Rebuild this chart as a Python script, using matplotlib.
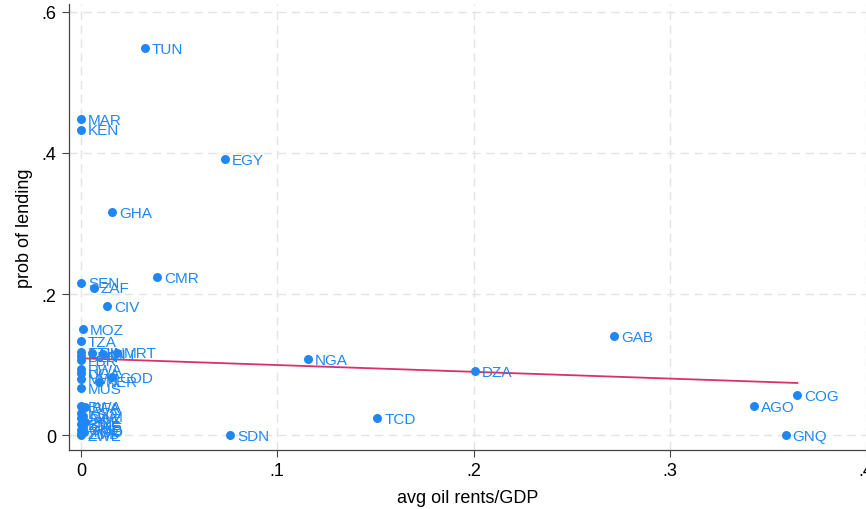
import numpy as np
import matplotlib
matplotlib.use("Agg")
import matplotlib.pyplot as plt

plt.rcParams['font.family'] = ['Liberation Sans', 'DejaVu Sans']

# country codes, avg oil rents/GDP, prob of lending
codes = ["TUN", "MAR", "KEN", "EGY", "GHA", "SEN", "ZAF", "CMR", "CIV", "MOZ",
         "TZA", "ETH", "GIN", "MLI", "MRT", "BEN", "LBR",
         "RWA", "UGA", "MWI", "COD", "NER", "MUS",
         "BWA", "BFA", "LSO", "NAM", "SWZ", "SLE", "BDI", "CAF", "GMB", "TGO",
         "ZMB", "ZWE",
         "NGA", "DZA", "GAB", "TCD", "SDN", "GNQ", "AGO", "COG"]
oil = [0.0326, 0.0, 0.0, 0.0734, 0.0158, 0.0, 0.0066, 0.0387, 0.0132, 0.0010,
       0.0, 0.0, 0.0055, 0.0110, 0.0185, 0.0, 0.0,
       0.0, 0.0, 0.0, 0.0160, 0.0090, 0.0,
       0.0, 0.0020, 0.0, 0.0010, 0.0, 0.0020, 0.0, 0.0010, 0.0, 0.0015,
       0.0, 0.0,
       0.1156, 0.2007, 0.2715, 0.1510, 0.0760, 0.3590, 0.3430, 0.3650]
prob = [0.549, 0.448, 0.433, 0.391, 0.316, 0.216, 0.209, 0.224, 0.183, 0.150,
        0.133, 0.118, 0.117, 0.115, 0.117, 0.112, 0.106,
        0.094, 0.088, 0.080, 0.082, 0.076, 0.067,
        0.041, 0.040, 0.031, 0.027, 0.024, 0.019, 0.016, 0.012, 0.008, 0.005,
        0.002, 0.0,
        0.108, 0.091, 0.140, 0.024, 0.0, 0.0, 0.041, 0.057]

# fitted line
fit_intercept = 0.109
fit_slope = -0.096

xticks = [0, 0.1, 0.2, 0.3, 0.4]
xtick_labels = ["0", ".1", ".2", ".3", ".4"]
yticks = [0, 0.2, 0.4, 0.6]
ytick_labels = ["0", ".2", ".4", ".6"]

blue = "#1f87f5"
fig = plt.figure(figsize=(8.66, 5.10), dpi=100)
ax = fig.add_axes([0.0797, 0.1157, 0.9215, 0.8743])

ax.scatter(oil, prob, s=42, color=blue, zorder=3, linewidths=0)
for c, x, y in zip(codes, oil, prob):
    ax.annotate(c, (x, y), xytext=(5, -0.5), textcoords="offset points",
                va="center", ha="left", fontsize=11, color=blue, zorder=3)

xs = np.array([0.0, max(oil)])
ax.plot(xs, fit_intercept + fit_slope * xs, color="#d9306b", lw=1.3, zorder=2)

ax.set_xlim(-0.0061, 0.4005)
ax.set_ylim(-0.021, 0.611)
ax.set_xticks(xticks)
ax.set_xticklabels(xtick_labels)
ax.set_yticks(yticks)
ax.set_yticklabels(ytick_labels)
ax.tick_params(labelsize=13, length=5, width=0.8, color="#444444", pad=4)

ax.grid(True, color="#e3e3e3", linestyle=(0, (6, 4)), lw=1)
ax.set_axisbelow(True)
for s in ["top", "right"]:
    ax.spines[s].set_visible(False)
for s in ["left", "bottom"]:
    ax.spines[s].set_color("#444444")
    ax.spines[s].set_linewidth(0.9)

ax.set_xlabel("avg oil rents/GDP", fontsize=13, labelpad=7)
ax.set_ylabel("prob of lending", fontsize=13, labelpad=6)

fig.savefig("out.png", dpi=100)
